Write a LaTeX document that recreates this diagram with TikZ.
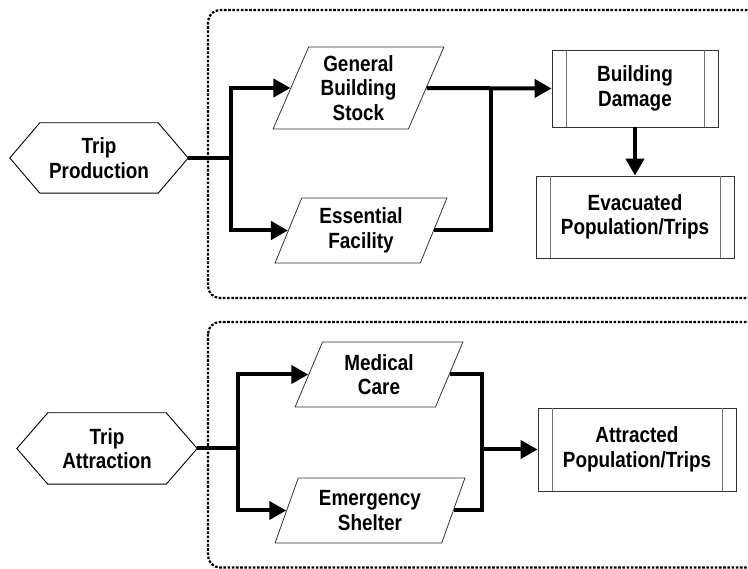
\documentclass[tikz,border=0pt]{standalone}
\usepackage{fontspec}
\setmainfont{Liberation Sans}[FakeStretch=0.86]
\usetikzlibrary{shapes.geometric,arrows.meta,calc}
\tikzset{
 lbl/.style={font=\fontsize{22}{24.5}\selectfont\bfseries, align=center, text=black},
 para/.style={lbl, trapezium, trapezium left angle=67.5, trapezium right angle=112.5,
   trapezium stretches=true, draw=black!80, line width=0.8pt, inner sep=0pt, minimum height=65pt},
 proc/.style={lbl, rectangle, draw=black!80, line width=0.8pt, inner sep=0pt},
 inner/.style={draw=black!55, line width=0.8pt},
 hexa/.style={lbl, rectangle, inner sep=0pt, minimum height=70pt},
 hexline/.style={draw=black, line width=0.9pt},
 conn/.style={line width=4pt},
 arr/.style={conn, -{Triangle[length=17pt,width=18pt]}},
 grp/.style={line width=2.2pt, dash pattern=on 2.6pt off 1.6pt, rounded corners=12pt},
}
\begin{document}
\begin{tikzpicture}[x=1pt,y=-1pt]
\useasboundingbox (0,0) rectangle (748,569);
\begin{scope}
\clip (0,0) rectangle (748,569);
\draw[grp] (208,10) rectangle (758,298);
\draw[grp] (208,322) rectangle (758,567.5);
\end{scope}

% hexagons
\node[hexa, minimum width=178pt] (tp) at (99,158) {Trip\\Production};
\draw[hexline] (tp.west) -- ($(tp.north west)+(30,0)$) -- ($(tp.north east)+(-30,0)$) -- (tp.east)
  -- ($(tp.south east)+(-30,0)$) -- ($(tp.south west)+(30,0)$) -- cycle;
\node[hexa, minimum width=180pt, minimum height=71pt] (ta) at (107,448.5) {Trip\\Attraction};
\draw[hexline] (ta.west) -- ($(ta.north west)+(31,0)$) -- ($(ta.north east)+(-31,0)$) -- (ta.east)
  -- ($(ta.south east)+(-31,0)$) -- ($(ta.south west)+(31,0)$) -- cycle;

% parallelograms
\node[para, minimum width=171pt, minimum height=82pt] (gbs) at (358.5,88) {General\\Building\\Stock};
\node[para, minimum width=172pt] (ef) at (361,230.5) {Essential\\Facility};
\node[para, minimum width=168pt] (mc) at (379,374.5) {Medical\\Care};
\node[para, minimum width=190pt] (es) at (370,510.5) {Emergency\\Shelter};

% process boxes
\node[proc, minimum width=166pt, minimum height=77pt] (bd) at (635,88.5) {Building\\Damage};
\node[proc, minimum width=198pt, minimum height=82pt] (ev) at (635,217) {Evacuated\\Population/Trips};
\node[proc, minimum width=198pt, minimum height=83pt] (atp) at (637,449.5) {Attracted\\Population/Trips};
\foreach \n in {bd,ev,atp}{
  \draw[inner] ($(\n.north west)+(15,0)$) -- ($(\n.south west)+(15,0)$);
  \draw[inner] ($(\n.north east)+(-14,0)$) -- ($(\n.south east)+(-14,0)$);
}

% connectors top
\coordinate (j1) at (231,158);
\coordinate (j2) at (491,88);
\draw[conn] (tp.east) -- (j1);
\draw[arr] (j1) |- (gbs.left side);
\draw[arr] (j1) |- (ef.left side);
\draw[arr] (gbs.right side) -- (bd.west);
\draw[conn] (ef.right side) -| (j2);
\draw[arr] (bd.south) -- (ev.north);

% connectors bottom
\coordinate (j3) at (238,448.5);
\coordinate (j4) at (482,449.5);
\draw[conn] (ta.east) -- (j3);
\draw[arr] (j3) |- (mc.left side);
\draw[arr] (j3) |- (es.left side);
\draw[conn] (mc.right side) -| (j4) |- (es.right side);
\draw[arr] (j4) -- (atp.west);
\end{tikzpicture}
\end{document}
